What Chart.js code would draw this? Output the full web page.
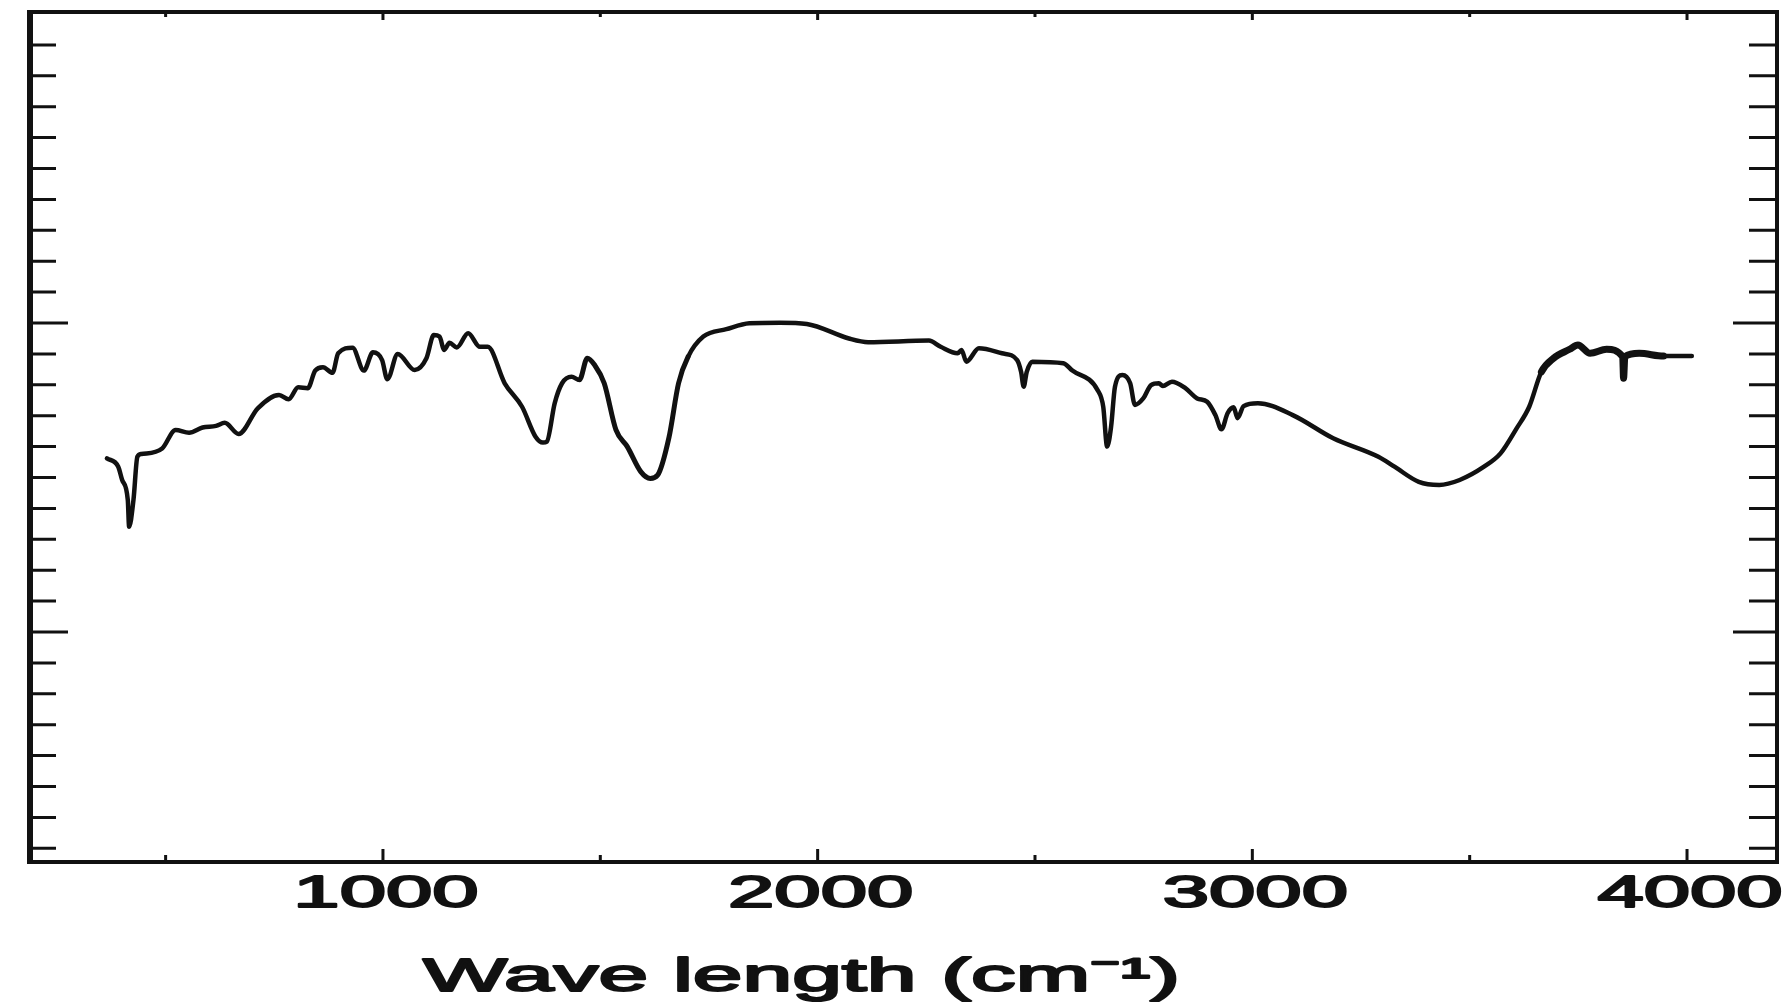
<!DOCTYPE html>
<html>
<head>
<meta charset="utf-8">
<title>IR spectrum</title>
<script src="https://cdn.jsdelivr.net/npm/chart.js@4.4.1/dist/chart.umd.min.js"></script>
<style>
    html, body { margin: 0; padding: 0; background: #fff; }
    canvas { display: block; }
</style>
</head>
<body>
<canvas id="spectrum" width="1789" height="1008"></canvas>
<script>
// Wavenumber (cm-1) and transmittance (arbitrary units, one unit per minor tick)
const waveNumbers = [
    365, 391, 400, 413, 416, 426, 435, 444, 492, 523, 554, 585, 616, 636, 668, 712,
    761, 783, 805, 827, 844, 862, 884, 897, 930, 956, 977, 998, 1010, 1034, 1073, 1100,
    1117, 1130, 1141, 1153, 1170, 1196, 1223, 1241, 1280, 1320, 1351, 1368, 1377, 1395,
    1412, 1434, 1452, 1470, 1487, 1509, 1536, 1562, 1593, 1615, 1632, 1658, 1680, 1702,
    1737, 1790, 1843, 1913, 1975, 2072, 2116, 2256, 2283, 2322, 2331, 2342, 2371, 2424,
    2459, 2468, 2474, 2481, 2494, 2565, 2586, 2644, 2657, 2666, 2675, 2684, 2701, 2719,
    2730, 2749, 2767, 2785, 2794, 2815, 2846, 2873, 2896, 2915, 2929, 2943, 2957, 2966,
    2980, 3013, 3093, 3186, 3290, 3327, 3383, 3430, 3477, 3533, 3571, 3608, 3637, 3665,
    3693, 3730, 3749, 3777, 3815, 3852, 3854, 3857, 3890, 3946, 4011
];
const transmittance = [
    5.62, 5.35, 4.92, 4.27, 3.41, 4.27, 5.67, 5.76, 5.94, 6.54, 6.45, 6.62, 6.67, 6.77, 6.41, 7.24,
    7.67, 7.53, 7.92, 7.89, 8.46, 8.57, 8.39, 9.02, 9.20, 8.46, 9.05, 8.80, 8.18, 9.00, 8.48, 8.86,
    9.61, 9.56, 9.13, 9.36, 9.21, 9.67, 9.23, 9.23, 8.05, 7.29, 6.32, 6.13, 6.16, 7.40,
    8.05, 8.26, 8.16, 8.86, 8.64, 8.05, 6.54, 6.00, 5.19, 4.97, 5.08, 6.30, 8.05, 8.91,
    9.56, 9.80, 9.99, 10.01, 9.97, 9.50, 9.38, 9.43, 9.23, 9.02, 9.13, 8.75, 9.18, 9.02,
    8.80, 8.42, 7.94, 8.42, 8.75, 8.70, 8.46, 7.83, 7.29, 6.00, 6.64, 7.94, 8.32, 8.05,
    7.35, 7.56, 7.99, 8.05, 7.96, 8.10, 7.89, 7.56, 7.45, 7.02, 6.56, 7.08, 7.27, 6.92,
    7.31, 7.40, 7.02, 6.27, 5.67, 5.35, 4.86, 4.76, 4.92, 5.35, 5.78, 6.59, 7.29, 8.42,
    8.86, 9.15, 9.29, 9.02, 9.15, 8.91, 8.21, 8.91, 9.02, 8.93, 8.93
];

const xTicks = [500, 1000, 1500, 2000, 2500, 3000, 3500, 4000];
const xLabels = [1000, 2000, 3000, 4000];
const yTicks = [-7, -6, -5, -4, -3, -2, -1, 0, 1, 2, 3, 4, 5, 6, 7, 8, 9, 10,
    11, 12, 13, 14, 15, 16, 17, 18, 19];
const yMajor = [0, 10];
const xTitle = 'Wave length (cm\u207B\u00B9)';

const INK = '#111';
const LABEL_FONT = '45px "Liberation Sans", Arial, sans-serif';
const TITLE_FONT = '47px "Liberation Sans", Arial, sans-serif';
const STRETCH = 1.85;      // the scanned lettering is widened
const TITLE_WIDTH = 757;   // width of the title in the scan

// stretched text with a little stroke, like the inked scan
function wideText(ctx, text, px, py, sx) {
    ctx.save();
    ctx.translate(px, py);
    ctx.scale(sx, 1);
    ctx.fillText(text, 0, 0);
    ctx.strokeText(text, 0, 0);
    ctx.restore();
}

// Frame, inward ticks and widened labels, placed from the chart scales
const framePlugin = {
    id: 'frame',
    afterDraw(chart) {
        const { ctx, chartArea: a, scales: { x, y } } = chart;
        ctx.save();
        ctx.strokeStyle = INK;
        ctx.lineCap = 'butt';

        ctx.lineWidth = 3;
        ctx.beginPath();
        yTicks.forEach(v => {
            const py = y.getPixelForValue(v);
            const major = yMajor.includes(v);
            ctx.moveTo(a.left, py);
            ctx.lineTo(a.left + (major ? 38 : 26), py);
            ctx.moveTo(a.right, py);
            ctx.lineTo(a.right - (major ? 44 : 28), py);
        });
        xTicks.forEach(v => {
            const px = x.getPixelForValue(v);
            const major = xLabels.includes(v);
            ctx.moveTo(px, a.bottom);
            ctx.lineTo(px, a.bottom - (major ? 13 : 7));
            ctx.moveTo(px, a.top);
            ctx.lineTo(px, a.top + (major ? 8 : 5));
        });
        ctx.stroke();

        ctx.lineWidth = 4;
        ctx.strokeRect(a.left, a.top, a.right - a.left, a.bottom - a.top);
        ctx.lineWidth = 6;
        ctx.beginPath();
        ctx.moveTo(a.left, a.top - 2);
        ctx.lineTo(a.left, a.bottom + 2);
        ctx.stroke();

        ctx.fillStyle = INK;
        ctx.lineWidth = 2;
        ctx.lineJoin = 'round';
        ctx.textBaseline = 'alphabetic';
        ctx.font = LABEL_FONT;
        ctx.textAlign = 'center';
        xLabels.forEach(v => {
            wideText(ctx, String(v), x.getPixelForValue(v) + 3, a.bottom + 45, STRETCH);
        });

        ctx.font = TITLE_FONT;
        ctx.textAlign = 'left';
        const sx = TITLE_WIDTH / ctx.measureText(xTitle).width;
        wideText(ctx, xTitle, 423, a.bottom + 129, sx);
        ctx.restore();
    }
};

const noisy = ctx => {
    const x0 = ctx.p0.parsed.x;
    if (x0 >= 3640 && x0 < 3900) return 7;
    if (x0 >= 1450 && x0 < 1700) return 5;
    return 4.5;
};

new Chart(document.getElementById('spectrum'), {
    type: 'line',
    data: {
        datasets: [{
            data: waveNumbers.map((w, i) => ({ x: w, y: transmittance[i] })),
            borderColor: INK,
            borderWidth: 4.5,
            pointRadius: 0,
            cubicInterpolationMode: 'monotone',
            borderJoinStyle: 'round',
            borderCapStyle: 'round',
            fill: false,
            segment: { borderWidth: noisy }
        }]
    },
    options: {
        responsive: false,
        animation: false,
        devicePixelRatio: 1,
        layout: { padding: { left: 30, right: 12, top: 12, bottom: 146 } },
        plugins: {
            legend: { display: false },
            tooltip: { enabled: false }
        },
        scales: {
            x: { type: 'linear', min: 188, max: 4207, display: false },
            y: { type: 'linear', min: -7.443, max: 20.065, display: false }
        }
    },
    plugins: [framePlugin]
});
</script>
</body>
</html>
